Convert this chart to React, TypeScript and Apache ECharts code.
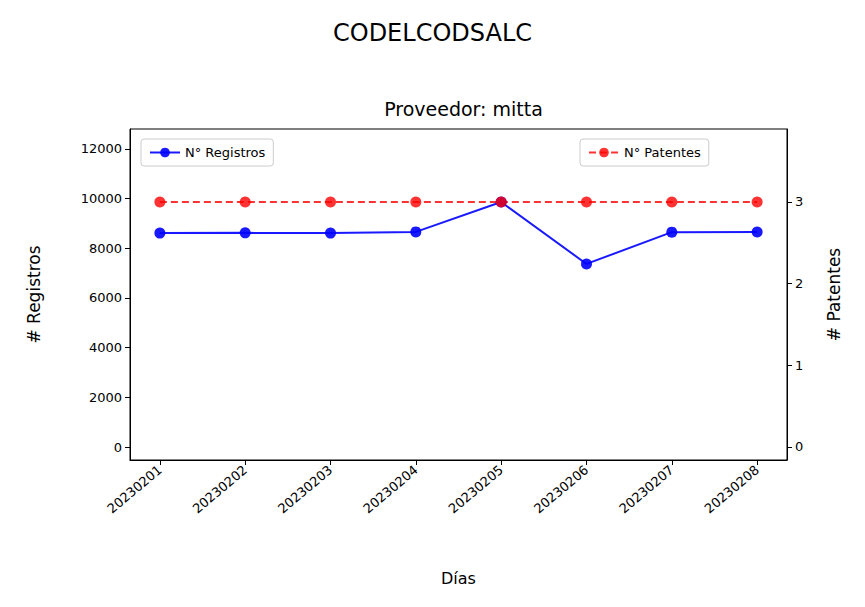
import React, { useEffect, useRef } from "react";
import * as echarts from "echarts";

const categories = ["20230201","20230202","20230203","20230204","20230205","20230206","20230207","20230208"];
const registros = [8610, 8620, 8610, 8660, 9860, 7370, 8650, 8655];
const patentes = [3, 3, 3, 3, 3, 3, 3, 3];
const leftTicks = [0, 2000, 4000, 6000, 8000, 10000, 12000];
const rightTicks = [0, 1, 2, 3];

export default function App() {
  const ref = useRef<HTMLDivElement>(null);
  useEffect(() => {
    const chart = echarts.init(ref.current!, null, { renderer: "svg" });
    const idx = categories.map((_, i) => i);
    const font = "DejaVu Sans";
    const L = 122, T = 121, W = 657, H = 331;
    chart.setOption({
      animation: false,
      textStyle: { fontFamily: font },
      title: [
        { text: "CODELCODSALC", left: "center", top: 8, textStyle: { fontSize: 24, fontWeight: "normal", color: "#000", fontFamily: font } },
        { text: "Proveedor: mitta", left: L + W / 2, textAlign: "center", top: 86, textStyle: { fontSize: 19, fontWeight: "normal", color: "#000", fontFamily: font } },
      ],
      graphic: [{ type: "rect", shape: { x: L, y: T, width: W, height: H }, style: { fill: "none", stroke: "#000", lineWidth: 1 }, silent: true }],
      legend: [
        { data: ["N° Registros"], left: L + 11, top: T + 10, borderColor: "#ccc", borderWidth: 1, borderRadius: 3, padding: [7, 8], itemWidth: 30, itemHeight: 12, textStyle: { fontSize: 13, color: "#000" } },
        { data: ["N° Patentes"], left: L + 450, top: T + 10, borderColor: "#ccc", borderWidth: 1, borderRadius: 3, padding: [7, 8], itemWidth: 30, itemHeight: 12, textStyle: { fontSize: 13, color: "#000" } },
      ],
      grid: { left: L, top: T, width: W, height: H },
      xAxis: {
        type: "value", min: -0.35, max: 7.35,
        name: "Días", nameLocation: "middle", nameGap: 110, nameTextStyle: { fontSize: 16, color: "#000" },
        splitLine: { show: false },
        axisLine: { onZero: false, lineStyle: { color: "#000" } },
        axisTick: { show: true, customValues: idx, lineStyle: { color: "#000" } },
        axisLabel: { customValues: idx, rotate: 40, fontSize: 13, color: "#000", formatter: (v: number) => categories[Math.round(v)] },
      },
      yAxis: [
        {
          type: "value", min: -520, max: 12800,
          name: "# Registros", nameLocation: "middle", nameGap: 88, nameTextStyle: { fontSize: 17, color: "#000" },
          splitLine: { show: false },
          axisLine: { show: true, onZero: false, lineStyle: { color: "#000" } },
          axisTick: { show: true, customValues: leftTicks, lineStyle: { color: "#000" } },
          axisLabel: { customValues: leftTicks, fontSize: 13, color: "#000", formatter: (v: number) => String(v) },
        },
        {
          type: "value", min: -0.16, max: 3.894,
          name: "# Patentes", nameLocation: "middle", nameGap: 38, nameTextStyle: { fontSize: 17, color: "#000" },
          splitLine: { show: false },
          axisLine: { show: true, onZero: false, lineStyle: { color: "#000" } },
          axisTick: { show: true, customValues: rightTicks, lineStyle: { color: "#000" } },
          axisLabel: { customValues: rightTicks, fontSize: 13, color: "#000" },
        },
      ],
      series: [
        {
          name: "N° Registros", type: "line", yAxisIndex: 0,
          data: registros.map((v, i) => [i, v]),
          symbol: "circle", symbolSize: 11,
          itemStyle: { color: "rgba(0,0,255,0.9)" }, lineStyle: { color: "rgba(0,0,255,0.9)", width: 2 },
        },
        {
          name: "N° Patentes", type: "line", yAxisIndex: 1,
          data: patentes.map((v, i) => [i, v]),
          symbol: "circle", symbolSize: 11,
          itemStyle: { color: "rgba(255,0,0,0.8)" }, lineStyle: { color: "rgba(255,0,0,0.8)", width: 2, type: [7, 4] },
        },
      ],
    });
    return () => chart.dispose();
  }, []);
  return <div ref={ref} style={{ width: 849, height: 591 }} />;
}
